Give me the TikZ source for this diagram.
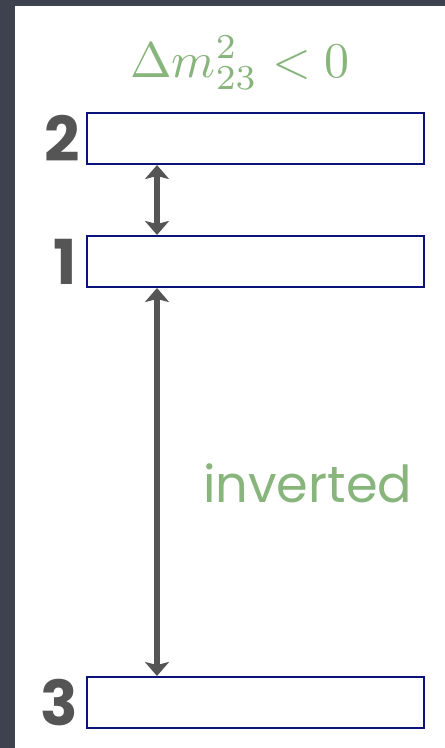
\documentclass[tikz,border=0pt]{standalone}
\usepackage{fontspec}
\newfontfamily\handfont{Poppins}
\usetikzlibrary{arrows.meta,positioning}
\definecolor{navyline}{HTML}{0A1478}
\definecolor{arrowgray}{HTML}{555555}
\definecolor{sagegreen}{HTML}{88B57C}
\definecolor{slate}{HTML}{3D424E}

\begin{document}
\begin{tikzpicture}[
        x=1pt, y=1pt,
        >={Stealth[length=14pt, width=24pt, inset=3pt]},
        level/.style={
            draw=navyline,
            line width=2pt,
            fill=white,
            minimum width=337pt,
            minimum height=51pt,
            inner sep=0pt
        },
        num/.style={
            font=\handfont\bfseries\fontsize{62}{62}\selectfont,
            text=arrowgray,
            inner sep=0pt
        },
        gap/.style={<->, arrowgray, line width=6pt}
    ]
        % slide background and panel
        \fill[slate] (0,0) rectangle (445,-748);
        \fill[white] (15,-6) rectangle (445,-748);

        \node[level] (m2) at (255.5,-138.5) {};
        \node[level, below=70pt of m2] (m1) {};
        \node[level, below=388pt of m1] (m3) {};

        \node[num, left=6pt of m2] (n2) {2};
        \node[num, left=9pt of m1] (n1) {1};
        \node[num, left=8pt of m3] (n3) {3};

        \node[anchor=base, text=sagegreen, inner sep=0pt, scale=5, font=\fontsize{10}{12}\selectfont]
            (sign) at ([xshift=-15.5pt, yshift=35pt]m2.north) {$\Delta m^2_{23} < 0$};

        \draw[gap] ([xshift=71pt]m2.south west) -- ([xshift=71pt]m1.north west);
        \draw[gap] ([xshift=71pt]m1.south west) -- ([xshift=71pt]m3.north west);

        \node[anchor=base west, text=sagegreen, inner sep=0pt, font=\handfont\fontsize{51}{60}\selectfont]
            (inv) at ([xshift=117pt, yshift=-214pt]m1.south west) {inverted};
    \end{tikzpicture}
\end{document}
